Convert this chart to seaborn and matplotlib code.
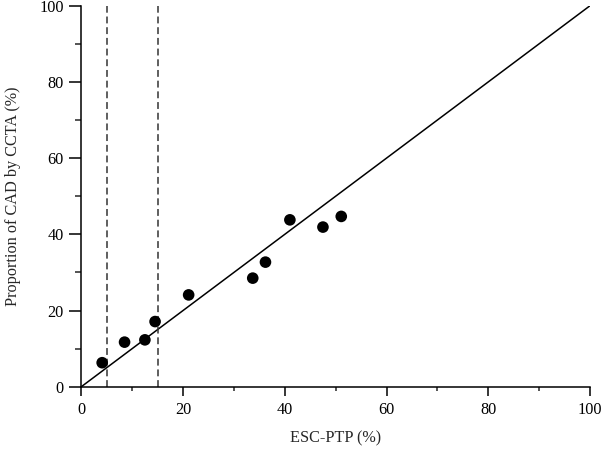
import numpy as np
import pandas as pd
import matplotlib
matplotlib.use("Agg")
import matplotlib.pyplot as plt
import seaborn as sns
from matplotlib.ticker import MultipleLocator

# values
esc_ptp = [4.1, 8.5, 12.5, 14.5, 21.1, 33.7, 36.2, 41.0, 47.5, 51.1]
cad_ccta = [6.3, 11.7, 12.3, 17.1, 24.1, 28.5, 32.7, 43.8, 41.9, 44.7]
identity_x = [0, 100]
identity_y = [0, 100]
cutoffs = [5, 15]

df = pd.DataFrame({"ESC-PTP": esc_ptp, "CAD": cad_ccta})
diag = pd.DataFrame({"x": identity_x, "y": identity_y})

sns.set_style("ticks")
plt.rcParams["font.family"] = ["Liberation Serif", "DejaVu Serif"]

fig = plt.figure(figsize=(6.01, 4.54), dpi=100)
ax = fig.add_axes([0.1353, 0.1482, 0.8464, 0.8392])

sns.lineplot(data=diag, x="x", y="y", color="black", linewidth=1.1, ax=ax)
for c in cutoffs:
    ax.axvline(c, color="#333333", linewidth=1.1, linestyle=(0, (4.5, 2.5)))
sns.scatterplot(data=df, x="ESC-PTP", y="CAD", color="black", s=70,
                edgecolor="none", ax=ax, zorder=5)

ax.set_xlim(0, 100)
ax.set_ylim(0, 100)
ax.xaxis.set_major_locator(MultipleLocator(20))
ax.xaxis.set_minor_locator(MultipleLocator(10))
ax.yaxis.set_major_locator(MultipleLocator(20))
ax.yaxis.set_minor_locator(MultipleLocator(10))

for s in ["top", "right"]:
    ax.spines[s].set_visible(False)
for s in ["left", "bottom"]:
    ax.spines[s].set_linewidth(1.1)
    ax.spines[s].set_color("black")

ax.tick_params(axis="x", which="major", length=6.2, width=1.1, pad=5,
               labelsize=11.7, colors="black")
ax.tick_params(axis="x", which="minor", length=3.2, width=1.1)
ax.tick_params(axis="y", which="major", length=8.6, width=1.1, pad=4,
               labelsize=11.7, colors="black")
ax.tick_params(axis="y", which="minor", length=4.3, width=1.1)

ax.set_xlabel("ESC-PTP (%)", fontsize=11.7, labelpad=9)
ax.set_ylabel("Proportion of CAD by CCTA (%)", fontsize=11.7, labelpad=13)

for sp in ax.spines.values():
    sp.set_clip_on(False)

fig.savefig("out.png", dpi=100)
